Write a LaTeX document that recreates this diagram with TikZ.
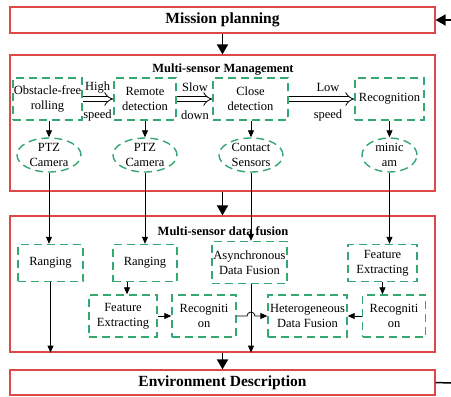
\documentclass[tikz,border=0pt]{standalone}
\usepackage{fontspec}
\setmainfont{Liberation Serif}
\usetikzlibrary{arrows.meta,shapes.geometric}
\definecolor{redb}{RGB}{222,72,72}
\definecolor{greenb}{RGB}{52,168,112}
\tikzset{
  bigbox/.style={draw=redb,line width=1.2pt,rectangle,inner sep=0pt},
  gbox/.style={draw=greenb,line width=1.4pt,dash pattern=on 8pt off 5pt,rectangle,inner sep=0pt,align=center,font=\fontsize{12.5}{15}\selectfont},
  gell/.style={draw=greenb,line width=1.4pt,dash pattern=on 8pt off 5pt,ellipse,inner sep=0pt,align=center,font=\fontsize{12.5}{15}\selectfont},
  lbl/.style={inner sep=0pt,font=\fontsize{12.5}{15}\selectfont},
  ttl/.style={inner sep=0pt,font=\bfseries\fontsize{12.5}{15}\selectfont},
  bigarr/.style={line width=1.8pt,-{Triangle[width=11pt,length=10pt]}},
  arr/.style={line width=0.8pt,-{Triangle[width=6pt,length=7pt]}},
  dbl/.style={double,double distance=4pt,line width=0.8pt,-{Implies}},
}
\begin{document}
\begin{tikzpicture}[x=1pt,y=-1pt]
\useasboundingbox (0,0) rectangle (451,397);
% big boxes
\node[bigbox,minimum width=425pt,minimum height=26pt,font=\bfseries\fontsize{15.5}{18}\selectfont] (mp) at (222.5,20) {Mission planning};
\node[bigbox,minimum width=425pt,minimum height=136pt] (msm) at (222.5,123) {};
\node[bigbox,minimum width=425pt,minimum height=136pt] (msf) at (222.5,284) {};
\node[bigbox,minimum width=425pt,minimum height=25pt,font=\bfseries\fontsize{15.5}{18}\selectfont] (env) at (222.5,382.5) {Environment Description};
\node[ttl] (t1) at (223,70) {Multi-sensor Management};
\node[ttl] (t2) at (223,231) {Multi-sensor data fusion};
% row 1
\node[gbox,minimum width=69pt,minimum height=42pt] (obs) at (47.5,99) {Obstacle-free\\rolling};
\node[gbox,minimum width=62pt,minimum height=42pt] (rem) at (145,99) {Remote\\detection};
\node[gbox,minimum width=75pt,minimum height=42pt] (clo) at (250.5,99) {Close\\detection};
\node[gbox,minimum width=69pt,minimum height=42pt] (rec) at (389.5,99) {Recognition};
\draw[dbl] (obs.east) -- (rem.west);
\draw[dbl] (rem.east) -- (clo.west);
\draw[dbl] (clo.east) -- (rec.west);
\node[lbl] (h1) at (97.5,88) {High};
\node[lbl] (h2) at (97.5,115) {speed};
\node[lbl] (s1) at (195,87) {Slow};
\node[lbl] (s2) at (195,115) {down};
\node[lbl] (l1) at (328,87) {Low};
\node[lbl] (l2) at (328,115) {speed};
% ellipses
\node[gell,minimum width=64pt,minimum height=34pt] (e1) at (49,155) {PTZ\\Camera};
\node[gell,minimum width=64pt,minimum height=34pt] (e2) at (145,155) {PTZ\\Camera};
\node[gell,minimum width=64pt,minimum height=34pt] (e3) at (251,155) {Contact\\Sensors};
\node[gell,minimum width=55pt,minimum height=34pt] (e4) at (389.5,155) {minic\\am};
\draw[arr] (obs.south -| e1) -- (e1.north);
\draw[arr] (rem.south) -- (e2.north);
\draw[arr] (clo.south -| e3) -- (e3.north);
\draw[arr] (rec.south) -- (e4.north);
% row 2
\node[gbox,minimum width=65pt,minimum height=37pt] (rg1) at (50.5,263) {Ranging};
\node[gbox,minimum width=64pt,minimum height=37pt] (rg2) at (145,263) {Ranging};
\node[gbox,minimum width=75pt,minimum height=42pt] (asy) at (249.5,262.5) {Asynchronous\\Data Fusion};
\node[gbox,minimum width=69pt,minimum height=37pt] (fe2) at (382.5,263) {Feature\\Extracting};
\draw[arr] (e1.south) -- (e1.south |- rg1.north);
\draw[arr] (e2.south) -- (rg2.north);
\draw[arr] (e3.south) -- (e3.south |- asy.north);
\draw[arr] (e4.south) -- (e4.south |- fe2.north);
% row 3
\node[gbox,minimum width=68pt,minimum height=42pt] (fe1) at (123,316) {Feature\\Extracting};
\node[gbox,minimum width=64pt,minimum height=42pt] (rc1) at (204,316) {Recogniti\\on};
\node[gbox,minimum width=79pt,minimum height=42pt] (het) at (307.5,316) {Heterogeneous\\Data Fusion};
\node[gbox,minimum width=63pt,minimum height=42pt] (rc2) at (394,316) {Recogniti\\on};
\draw[arr] (rg2.south -| fe1.north) ++(4,0) coordinate (a1) -- (a1 |- fe1.north);
\draw[arr] (fe2.south) -- (fe2.south |- rc2.north);
\draw[arr] (fe1.east) -- (rc1.west);
\coordinate (j1) at (247,316);
\draw[arr] (rc1.east) -- (j1) arc[start angle=180,end angle=0,radius=4pt] -- (het.west);
\draw[arr] (rc2.west) -- (het.east);
% outputs down
\draw[arr] (rg1.south) -- (rg1.south |- msf.south);
\draw[arr] (e3.south |- asy.south) -- (e3.south |- msf.south);
% big arrows
\draw[bigarr] (mp.south) -- (msm.north);
\draw[bigarr] (msm.south) -- (msf.north);
\draw[bigarr] (msf.south) -- (env.north);
\coordinate (fbt) at (451,20);
\coordinate (fbb) at (451,383);
\draw[bigarr] (fbt) -- (mp.east);
\draw[line width=1.5pt] (env.east) -- (fbb);
\end{tikzpicture}
\end{document}
